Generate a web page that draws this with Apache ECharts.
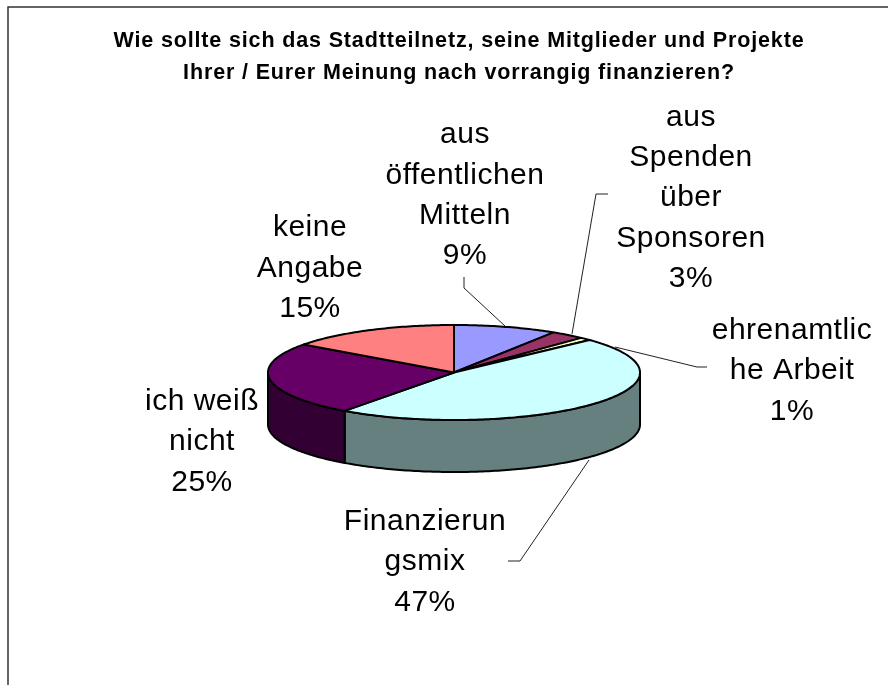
<!DOCTYPE html>
<html>
<head>
<meta charset="utf-8">
<style>
html, body { margin: 0; padding: 0; background: #fff; }
#main { width: 888px; height: 685px; }
</style>
<script src="https://cdn.jsdelivr.net/npm/echarts@6/dist/echarts.min.js"></script>
</head>
<body>
<div id="main"></div>
<script>
// Werte
var categories = ["aus öffentlichen Mitteln", "aus Spenden über Sponsoren", "ehrenamtliche Arbeit", "Finanzierungsmix", "ich weiß nicht", "keine Angabe"];
var values = [9, 3, 1, 47, 25, 15];
var labelLines = [
	["aus", "öffentlichen", "Mitteln", "9%"],
	["aus", "Spenden", "über", "Sponsoren", "3%"],
	["ehrenamtlic", "he Arbeit", "1%"],
	["Finanzierun", "gsmix", "47%"],
	["ich weiß", "nicht", "25%"],
	["keine", "Angabe", "15%"]
];
var topColors = ["#9999FF", "#993366", "#FFFFCC", "#CCFFFF", "#660066", "#FF8080"];
var sideColors = ["#4D4D80", "#4D1A33", "#808066", "#668080", "#330033", "#804040"];

// Layout
var titleText = "Wie sollte sich das Stadtteilnetz, seine Mitglieder und Projekte\nIhrer / Eurer Meinung nach vorrangig finanzieren?";
var pieCx = 454, pieCy = 372.5, pieRx = 186, pieRy = 47.5, pieDepth = 52;
var labelCenters = [[465, 195.5], [691, 198], [792, 371], [425, 562], [202, 442], [310, 268.5]];
var leaders = [
	[[464, 277], [464, 288], [505, 326]],
	[[608, 194], [596, 194], [572, 334]],
	[[707, 367], [697, 367], [615, 347]],
	[[508, 561], [520, 561], [589, 460]]
];

var total = values.reduce(function(a, b) { return a + b; }, 0);
var starts = [];
var acc = 0;
for (var i = 0; i < values.length; i++) {
	starts.push(acc);
	acc += values[i];
}

// Winkel im Uhrzeigersinn ab 12 Uhr auf die Ellipse
function rimPoint(angle, dy) {
	return [pieCx + pieRx * Math.sin(angle), pieCy - pieRy * Math.cos(angle) + (dy || 0)];
}

function sliceAngles(idx) {
	return [starts[idx] / total * Math.PI * 2, (starts[idx] + values[idx]) / total * Math.PI * 2];
}

function renderTop(params, api) {
	var a = sliceAngles(params.dataIndex);
	var pts = [[pieCx, pieCy]];
	var n = Math.max(2, Math.ceil((a[1] - a[0]) * 60));
	for (var k = 0; k <= n; k++) {
		pts.push(rimPoint(a[0] + (a[1] - a[0]) * k / n));
	}
	return {
		type: "polygon",
		shape: { points: pts },
		style: { fill: topColors[params.dataIndex], stroke: "#000", lineWidth: 2, lineJoin: "round" }
	};
}

// Nur die vordere Haelfte (90 bis 270 Grad) hat eine sichtbare Seitenwand
function renderSide(params, api) {
	var a = sliceAngles(params.dataIndex);
	var from = Math.max(a[0], Math.PI / 2);
	var to = Math.min(a[1], Math.PI * 1.5);
	if (to <= from) {
		return null;
	}
	var n = Math.ceil((to - from) * 60);
	var upper = [], lower = [];
	for (var k = 0; k <= n; k++) {
		var t = from + (to - from) * k / n;
		upper.push(rimPoint(t));
		lower.unshift(rimPoint(t, pieDepth));
	}
	return {
		type: "polygon",
		shape: { points: upper.concat(lower) },
		style: { fill: sideColors[params.dataIndex], stroke: "#000", lineWidth: 2, lineJoin: "round" }
	};
}

function renderLabel(params, api) {
	var idx = params.dataIndex;
	var children = [{
		type: "text",
		style: {
			x: labelCenters[idx][0],
			y: labelCenters[idx][1],
			text: labelLines[idx].join("\n"),
			align: "center",
			verticalAlign: "middle",
			fontFamily: "Liberation Sans",
			fontSize: 30,
			lineHeight: 40.3,
			fill: "#000"
		}
	}];
	if (leaders[idx]) {
		children.push({
			type: "polyline",
			shape: { points: leaders[idx] },
			style: { fill: "none", stroke: "#222", lineWidth: 1 }
		});
	}
	return { type: "group", children: children };
}

// Die Vorlage hat weiter gesperrte Schrift, zrender kennt kein letterSpacing
var rawFillText = CanvasRenderingContext2D.prototype.fillText;
CanvasRenderingContext2D.prototype.fillText = function(text, x, y) {
	this.letterSpacing = this.font.indexOf("bold") >= 0 ? "0.85px" : "0.5px";
	rawFillText.call(this, text, x, y);
	this.letterSpacing = "0px";
};

var chart = echarts.init(document.getElementById("main"), null, { renderer: "canvas" });
chart.setOption({
	animation: false,
	backgroundColor: "#fff",
	title: {
		text: titleText,
		left: 454,
		top: 20,
		textAlign: "center",
		textStyle: {
			fontFamily: "Liberation Sans",
			fontSize: 21.5,
			fontWeight: "bold",
			lineHeight: 32,
			color: "#000"
		}
	},
	graphic: [{
		type: "polyline",
		silent: true,
		shape: { points: [[8, 685], [8, 7], [888, 7]] },
		style: { fill: "none", stroke: "#333", lineWidth: 1.5 }
	}],
	series: [
		{ type: "custom", coordinateSystem: "none", name: "Seite", silent: true, z: 2, data: values, renderItem: renderSide },
		{ type: "custom", coordinateSystem: "none", name: "Oben", silent: true, z: 3, data: values, renderItem: renderTop },
		{ type: "custom", coordinateSystem: "none", name: "Beschriftung", silent: true, z: 4, data: categories, renderItem: renderLabel }
	]
});
</script>
</body>
</html>
